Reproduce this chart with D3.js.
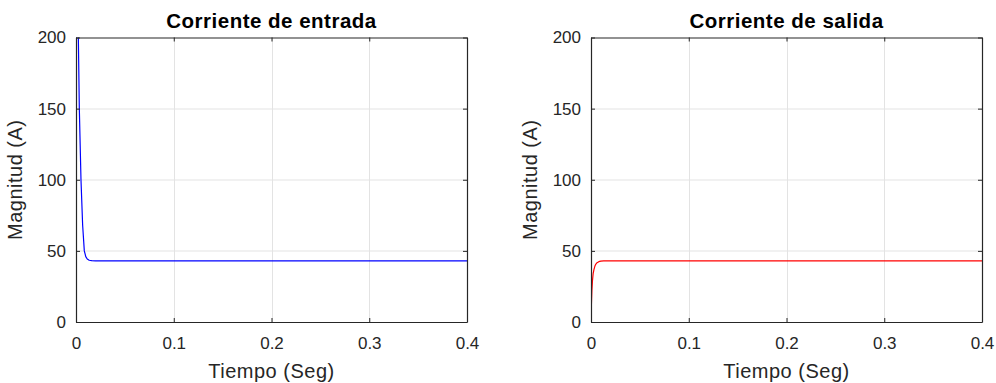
<!DOCTYPE html>
<html>
<head>
<meta charset="utf-8">
<script src="https://cdn.jsdelivr.net/npm/d3@7"></script>
<style>
  html, body { margin: 0; padding: 0; background: #fff; }
  svg { display: block; font-family: "Liberation Sans", Arial, sans-serif; }
</style>
</head>
<body>
<svg id="chart" width="996" height="383"></svg>
<script>
// Simulated input current (A) vs. time (s)
const timeIn = [0, 0.0003, 0.0012, 0.0024, 0.0034, 0.0051, 0.0068, 0.0085, 0.0100, 0.0115, 0.0135, 0.0160, 0.0200, 0.4];
const currentIn = [0, 420, 270, 200, 150, 100, 68, 50, 46, 44.3, 43.4, 43.1, 43, 43];

// Simulated output current (A) vs. time (s)
const timeOut = [0, 0.0004, 0.0009, 0.0015, 0.0022, 0.0030, 0.0040, 0.0050, 0.0062, 0.0080, 0.0100, 0.0130, 0.4];
const currentOut = [0, 12, 22, 29, 34, 36.8, 39.3, 40.7, 41.7, 42.4, 42.8, 43, 43];

const xTicks = [0, 0.1, 0.2, 0.3, 0.4];
const yTicks = [0, 50, 100, 150, 200];

const panels = [
  { title: "Corriente de entrada", t: timeIn, v: currentIn, color: "#0000ff", left: 76 },
  { title: "Corriente de salida", t: timeOut, v: currentOut, color: "#ff0000", left: 591 }
];

const svg = d3.select("#chart");
const plotTop = 37.5, plotH = 284.5, plotW = 391;
const axisColor = "#262626";

panels.forEach((p, i) => {
  const g = svg.append("g").attr("transform", `translate(${p.left},${plotTop})`);
  const x = d3.scaleLinear().domain([0, 0.4]).range([0, plotW]);
  const y = d3.scaleLinear().domain([0, 200]).range([plotH, 0]);

  // grid
  g.append("g").selectAll("line").data(xTicks.slice(1, -1)).join("line")
    .attr("x1", d => Math.round(x(d)) + 0.5).attr("x2", d => Math.round(x(d)) + 0.5)
    .attr("y1", 0).attr("y2", plotH)
    .attr("stroke", "#e3e3e3").attr("stroke-width", 1);
  g.append("g").selectAll("line").data(yTicks.slice(1, -1)).join("line")
    .attr("y1", d => Math.round(y(d)) + 0.5).attr("y2", d => Math.round(y(d)) + 0.5)
    .attr("x1", 0).attr("x2", plotW)
    .attr("stroke", "#e3e3e3").attr("stroke-width", 1);

  // data line
  const clipId = "clip" + i;
  g.append("clipPath").attr("id", clipId).append("rect")
    .attr("x", 0).attr("y", 0).attr("width", plotW).attr("height", plotH);
  const line = d3.line().x((d, k) => x(p.t[k])).y(d => y(d));
  g.append("path").datum(p.v)
    .attr("clip-path", `url(#${clipId})`)
    .attr("d", line)
    .attr("fill", "none")
    .attr("stroke", p.color)
    .attr("stroke-width", 1.2)
    .attr("stroke-linejoin", "round");

  // axes (inward ticks on all sides)
  const tl = 4;
  const xa = g.append("g").attr("transform", `translate(0,${plotH})`)
    .call(d3.axisBottom(x).tickValues(xTicks).tickFormat(d3.format("~g")).tickSizeInner(-tl).tickSizeOuter(0).tickPadding(15));
  const xt = g.append("g").call(d3.axisTop(x).tickValues(xTicks).tickFormat("").tickSizeInner(-tl).tickSizeOuter(0));
  const ya = g.append("g")
    .call(d3.axisLeft(y).tickValues(yTicks).tickSizeInner(-tl).tickSizeOuter(0).tickPadding(10));
  const yr = g.append("g").attr("transform", `translate(${plotW},0)`)
    .call(d3.axisRight(y).tickValues(yTicks).tickFormat("").tickSizeInner(-tl).tickSizeOuter(0));

  [xa, xt, ya, yr].forEach(a => {
    a.select(".domain").attr("stroke", axisColor).attr("stroke-width", 1.2);
    a.selectAll(".tick line").attr("stroke", axisColor).attr("stroke-width", 1);
    a.selectAll("text").attr("fill", axisColor).style("font-size", "17px")
      .style("font-family", "'Liberation Sans', Arial, sans-serif");
  });

  // title
  g.append("text").attr("x", plotW / 2).attr("y", -10)
    .attr("text-anchor", "middle").attr("fill", "#000")
    .style("font-size", "20.5px").style("font-weight", "bold")
    .style("letter-spacing", "0.5px")
    .text(p.title);

  // axis labels
  g.append("text").attr("x", plotW / 2).attr("y", plotH + 55.5)
    .attr("text-anchor", "middle").attr("fill", axisColor)
    .style("font-size", "20px").style("letter-spacing", "0.5px")
    .text("Tiempo (Seg)");
  g.append("text").attr("transform", `translate(-54,${plotH / 2}) rotate(-90)`)
    .attr("text-anchor", "middle").attr("fill", axisColor)
    .style("font-size", "20px").style("letter-spacing", "0.5px")
    .text("Magnitud (A)");
});
</script>
</body>
</html>
